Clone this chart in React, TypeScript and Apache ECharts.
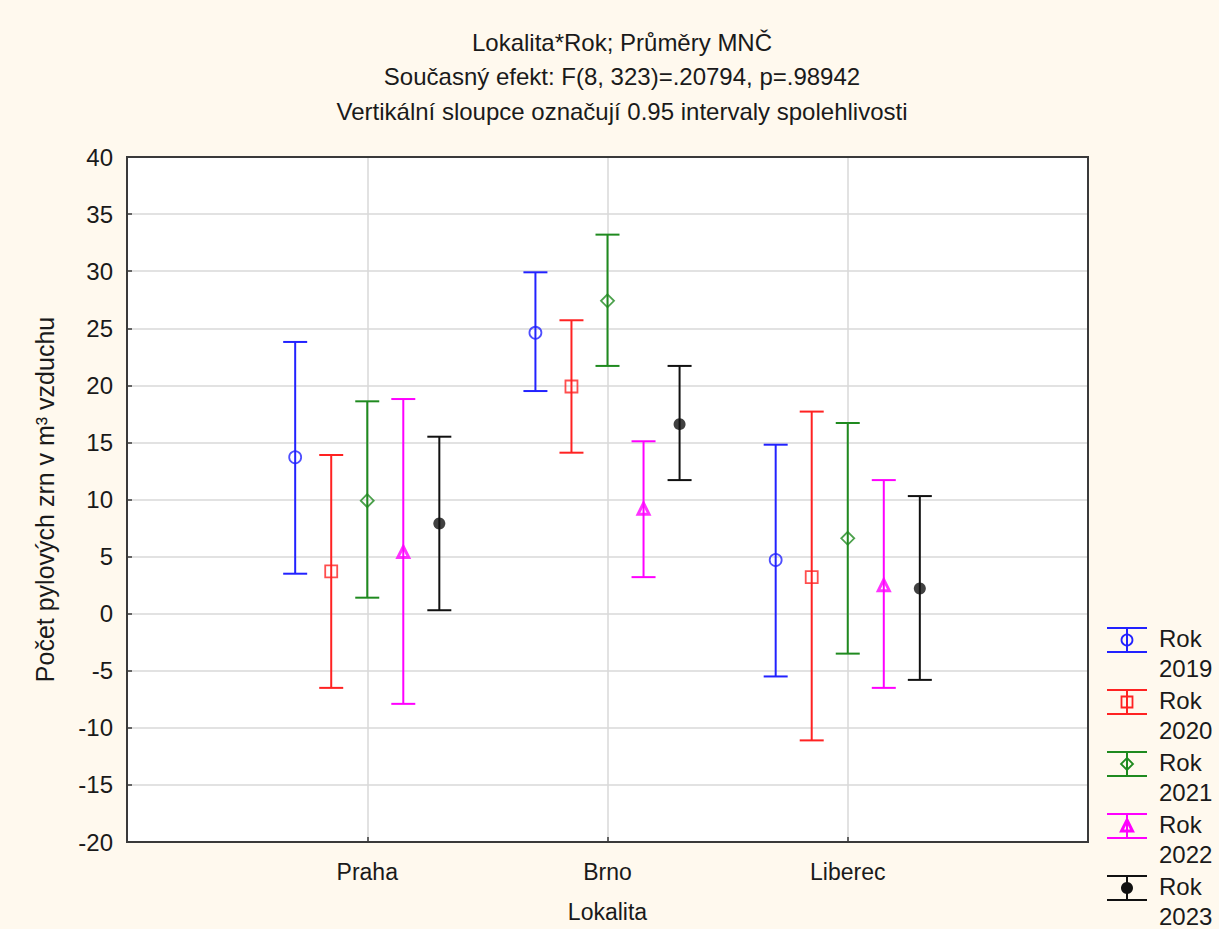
import React, { useEffect, useRef } from "react";
import * as echarts from "echarts";

const categories = ["Praha", "Brno", "Liberec"];
const years = ["2019", "2020", "2021", "2022", "2023"];
const colors = ["#2222ff", "#ff2222", "#1f8a1f", "#ff00ff", "#111111"];
const offsets = [-0.3, -0.15, 0, 0.15, 0.3];

const mean2019 = [13.7, 24.6, 4.7];
const low2019 = [3.5, 19.5, -5.5];
const high2019 = [23.8, 29.9, 14.8];

const mean2020 = [3.7, 19.9, 3.2];
const low2020 = [-6.5, 14.1, -11.1];
const high2020 = [13.9, 25.7, 17.7];

const mean2021 = [9.9, 27.4, 6.6];
const low2021 = [1.4, 21.7, -3.5];
const high2021 = [18.6, 33.2, 16.7];

const mean2022 = [5.4, 9.2, 2.5];
const low2022 = [-7.9, 3.2, -6.5];
const high2022 = [18.8, 15.1, 11.7];

const mean2023 = [7.9, 16.6, 2.2];
const low2023 = [0.3, 11.7, -5.8];
const high2023 = [15.5, 21.7, 10.3];

const means = [mean2019, mean2020, mean2021, mean2022, mean2023];
const lows = [low2019, low2020, low2021, low2022, low2023];
const highs = [high2019, high2020, high2021, high2022, high2023];

const symbols = ["circle", "rect", "diamond", "triangle", "circle"];
const filled = [false, false, false, false, true];

const FONT = "Arial, 'Liberation Sans', sans-serif";
const TXT = "#1a1a1a";

export default function App() {
  const ref = useRef<HTMLDivElement>(null);
  useEffect(() => {
    if (!ref.current) return;
    const chart = echarts.init(ref.current, undefined, { renderer: "svg" });
    const series: any[] = [];
    years.forEach((y, i) => {
      const color = colors[i];
      series.push({
        type: "custom",
        name: "ci" + y,
        encode: { x: 0, y: [1, 2] },
        data: categories.map((_, c) => [c + 1 + offsets[i], lows[i][c], highs[i][c]]),
        renderItem: (params: any, api: any) => {
          const x = api.value(0);
          const top = api.coord([x, api.value(2)]);
          const bot = api.coord([x, api.value(1)]);
          const hw = 12;
          const style = { stroke: color, lineWidth: 2 };
          return {
            type: "group",
            children: [
              { type: "line", shape: { x1: top[0], y1: top[1], x2: bot[0], y2: bot[1] }, style },
              { type: "line", shape: { x1: top[0] - hw, y1: top[1], x2: top[0] + hw, y2: top[1] }, style },
              { type: "line", shape: { x1: bot[0] - hw, y1: bot[1], x2: bot[0] + hw, y2: bot[1] }, style },
            ],
          };
        },
        z: 2,
      });
      series.push({
        type: "scatter",
        name: "Rok " + y,
        symbol: symbols[i],
        symbolSize: symbols[i] === "diamond" ? 13 : symbols[i] === "triangle" ? 11 : 12,
        itemStyle: {
          color: filled[i] ? color : "rgba(0,0,0,0)",
          borderColor: color,
          borderWidth: filled[i] ? 0 : symbols[i] === "triangle" ? 3 : 1.8,
        },
        data: categories.map((_, c) => [c + 1 + offsets[i], means[i][c]]),
        z: 3,
      });
    });

    const legendItems: any[] = [];
    years.forEach((y, i) => {
      const cy = 640 + i * 62;
      const cx = 1127;
      const color = colors[i];
      const st = { stroke: color, lineWidth: 2 };
      legendItems.push(
        { type: "line", shape: { x1: cx - 20, y1: cy - 12, x2: cx + 20, y2: cy - 12 }, style: st },
        { type: "line", shape: { x1: cx - 20, y1: cy + 12, x2: cx + 20, y2: cy + 12 }, style: st },
        { type: "line", shape: { x1: cx, y1: cy - 12, x2: cx, y2: cy + 12 }, style: st }
      );
      const mst = { stroke: color, lineWidth: 1.8, fill: "rgba(0,0,0,0)" };
      if (i === 0) legendItems.push({ type: "circle", shape: { cx, cy, r: 5.5 }, style: mst });
      if (i === 1) legendItems.push({ type: "rect", shape: { x: cx - 5.5, y: cy - 5.5, width: 11, height: 11 }, style: mst });
      if (i === 2)
        legendItems.push({
          type: "polygon",
          shape: { points: [[cx, cy - 6], [cx + 6, cy], [cx, cy + 6], [cx - 6, cy]] },
          style: mst,
        });
      if (i === 3)
        legendItems.push({
          type: "polygon",
          shape: { points: [[cx, cy - 6], [cx + 5.5, cy + 5], [cx - 5.5, cy + 5]] },
          style: { stroke: color, lineWidth: 3, fill: "rgba(0,0,0,0)" },
        });
      if (i === 4) legendItems.push({ type: "circle", shape: { cx, cy, r: 6 }, style: { fill: color } });
      legendItems.push(
        { type: "text", x: 1159, y: cy - 2, style: { text: "Rok", font: `24px ${FONT}`, fill: TXT, textVerticalAlign: "middle" } },
        { type: "text", x: 1159, y: cy + 28, style: { text: y, font: `24px ${FONT}`, fill: TXT, textVerticalAlign: "middle" } }
      );
    });

    const titles = [
      "Lokalita*Rok; Průměry MNČ",
      "Současný efekt: F(8, 323)=.20794, p=.98942",
      "Vertikální sloupce označují 0.95 intervaly spolehlivosti",
    ];
    const titleY = [42, 76, 111];
    const titleEls = titles.map((t, k) => ({
      type: "text",
      x: 622,
      y: titleY[k],
      style: { text: t, font: `24px ${FONT}`, fill: TXT, textAlign: "center", textVerticalAlign: "middle" },
    }));

    const border = {
      type: "rect",
      shape: { x: 127, y: 157, width: 961, height: 685 },
      style: { fill: "rgba(0,0,0,0)", stroke: "#3a3a3a", lineWidth: 2 },
      z: 100,
    };

    chart.setOption({
      animation: false,
      backgroundColor: "#fff9ee",
      grid: {
        left: 127,
        top: 157,
        right: 131,
        bottom: 87,
        show: true,
        backgroundColor: "#ffffff",
        borderWidth: 0,
        containLabel: false,
      },
      xAxis: {
        type: "value",
        min: 0,
        max: 4,
        interval: 1,
        name: "Lokalita",
        nameLocation: "middle",
        nameGap: 58,
        nameTextStyle: { fontSize: 23, fontFamily: FONT, color: TXT },
        axisLine: { show: false, onZero: false },
        axisTick: { show: true, inside: true, length: 5, lineStyle: { color: "#3a3a3a", width: 1.5 } },
        axisLabel: {
          fontSize: 23,
          fontFamily: FONT,
          color: TXT,
          margin: 18,
          formatter: (v: number) => (v >= 1 && v <= 3 && Number.isInteger(v) ? categories[v - 1] : ""),
        },
        splitLine: { show: true, showMinLine: false, showMaxLine: false, lineStyle: { color: "#d8d8d8", width: 1.5 } },
      },
      yAxis: {
        type: "value",
        min: -20,
        max: 40,
        interval: 5,
        name: "Počet pylových zrn v m³ vzduchu",
        nameLocation: "middle",
        nameGap: 70,
        nameTextStyle: { fontSize: 25, fontFamily: FONT, color: TXT },
        axisLine: { show: false, onZero: false },
        axisTick: { show: true, inside: true, length: 5, lineStyle: { color: "#3a3a3a", width: 1.5 } },
        axisLabel: { fontSize: 24, fontFamily: FONT, color: TXT, margin: 14 },
        splitLine: { show: true, showMinLine: false, showMaxLine: false, lineStyle: { color: "#d8d8d8", width: 1.5 } },
      },
      graphic: [...titleEls, ...legendItems, border],
      series,
    });
    return () => chart.dispose();
  }, []);
  return (
    <div
      ref={ref}
      style={{ position: "fixed", left: 0, top: 0, width: 1219, height: 929 }}
    />
  );
}
